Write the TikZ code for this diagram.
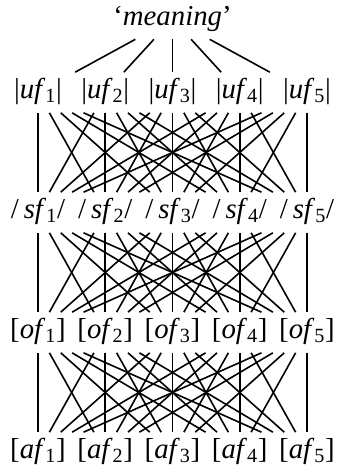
\documentclass[tikz,border=0pt]{standalone}
\usepackage{fontspec}
\setmainfont{Liberation Serif}
\usetikzlibrary{positioning}

\begin{document}
\begin{tikzpicture}[
    x=0.75pt, y=-0.75pt,
    feat/.style={
        inner xsep=0pt, inner ysep=4.4pt, minimum width=70pt,
        text height=15pt, text depth=5.5pt, font=\fontsize{21.6}{25}\selectfont
    },
    line width=1.2pt
]
\useasboundingbox (0,0) rectangle (340,470);

\node[feat] (mean) at (172.5,19) {`\textit{meaning}'};

% the four rows of features
\foreach \i in {1,...,5} {
    \node[feat] (uf\i) at ({38+67.25*(\i-1)},92.5) {|\textit{uf}\textsubscript{\i}|};
    \node[feat] (sf\i) at ({38+67.25*(\i-1)},212.5) {/\,\textit{sf}\textsubscript{\i}/};
    \node[feat] (of\i) at ({38+67.25*(\i-1)},332.5) {[\textit{of}\textsubscript{\i}]};
    \node[feat] (af\i) at ({38+67.25*(\i-1)},452.5) {[\textit{af}\textsubscript{\i}]};
}

% every feature links to every feature of the next row
\foreach \j in {1,...,5} \draw (mean) -- (uf\j);
\foreach \i in {1,...,5} {
    \foreach \j in {1,...,5} {
        \draw (uf\i) -- (sf\j);
        \draw (sf\i) -- (of\j);
        \draw (of\i) -- (af\j);
    }
}

\end{tikzpicture}
\end{document}
